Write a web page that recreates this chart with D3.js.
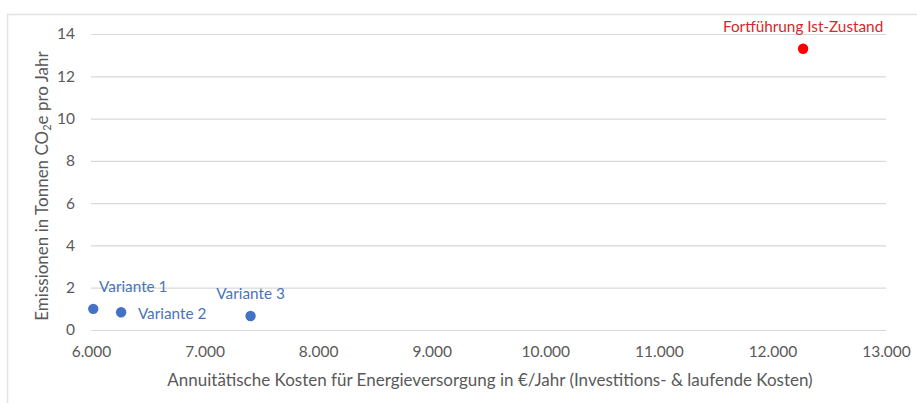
<!DOCTYPE html>
<html>
<head>
<meta charset="utf-8">
<script src="https://cdn.jsdelivr.net/npm/d3@7"></script>
<style>
  html, body { margin: 0; padding: 0; background: #fff; }
  svg { display: block; font-family: Lato, "Open Sans", sans-serif; }
</style>
</head>
<body>
<svg id="chart" width="917" height="403"></svg>
<script>
// Scenario names, annual costs (€/year) and emissions (t CO2e/year)
const names = ["Variante 1", "Variante 2", "Variante 3", "Fortführung Ist-Zustand"];
const costs = [6020, 6265, 7405, 12270];
const emissions = [1.0, 0.84, 0.66, 13.3];
const xTicks = [6000, 7000, 8000, 9000, 10000, 11000, 12000, 13000];
const yTicks = [0, 2, 4, 6, 8, 10, 12, 14];

// Label placement and colours per scenario
const labelOffsets = {
  "Variante 1": [40, -22],
  "Variante 2": [51, 1],
  "Variante 3": [0, -22],
  "Fortführung Ist-Zustand": [0, -22]
};
const dotColor = d => d === "Fortführung Ist-Zustand" ? "#FF0000" : "#4472C4";
const labelColor = d => d === "Fortführung Ist-Zustand" ? "#D8262C" : "#4A74B8";

const svg = d3.select("#chart");

// chart frame
svg.append("path")
  .attr("d", "M7.5,403 V14.5 H917")
  .attr("fill", "none")
  .attr("stroke", "#E3E3E3")
  .attr("stroke-width", 1.5);

const x = d3.scaleLinear().domain([6000, 13000]).range([91, 886]);
const y = d3.scaleLinear().domain([0, 14]).range([330, 34]);

const fmt = d3.formatLocale({ decimal: ",", thousands: ".", grouping: [3], currency: ["", "€"] }).format(",.0f");

// horizontal gridlines with value labels
const yAxis = d3.axisLeft(y).tickValues(yTicks).tickSize(-(x.range()[1] - x.range()[0])).tickPadding(16);
const gy = svg.append("g").attr("transform", `translate(${x.range()[0]},0)`).call(yAxis);
gy.select(".domain").remove();
gy.selectAll(".tick line").attr("stroke", "#D9D9D9").attr("stroke-width", 1.2);
gy.selectAll(".tick text").attr("fill", "#595959").attr("font-size", 15.5).attr("font-family", "Lato");

// x axis labels only
const xAxis = d3.axisBottom(x).tickValues(xTicks).tickFormat(fmt).tickSize(0).tickPadding(16);
const gx = svg.append("g").attr("transform", `translate(0,${y(0)})`).call(xAxis);
gx.select(".domain").remove();
gx.selectAll(".tick text").attr("fill", "#595959").attr("font-size", 15.5).attr("font-family", "Lato");

// axis titles
svg.append("text")
  .attr("x", 490).attr("y", 386)
  .attr("text-anchor", "middle")
  .attr("fill", "#595959")
  .attr("font-size", 17)
  .text("Annuitätische Kosten für Energieversorgung in €/Jahr (Investitions- & laufende Kosten)");

const yt = svg.append("text")
  .attr("transform", "translate(48,186) rotate(-90)")
  .attr("text-anchor", "middle")
  .attr("fill", "#595959")
  .attr("font-size", 17);
yt.append("tspan").text("Emissionen in Tonnen CO");
yt.append("tspan").attr("font-size", 11).attr("dy", 3).text("2");
yt.append("tspan").attr("dy", -3).text("e pro Jahr");

// points
const data = names.map((n, i) => ({ name: n, cost: costs[i], em: emissions[i] }));
svg.append("g").selectAll("circle").data(data).join("circle")
  .attr("cx", d => x(d.cost))
  .attr("cy", d => y(d.em))
  .attr("r", 5.2)
  .attr("fill", d => dotColor(d.name));

// data labels
svg.append("g").selectAll("text").data(data).join("text")
  .attr("x", d => x(d.cost) + labelOffsets[d.name][0])
  .attr("y", d => y(d.em) + labelOffsets[d.name][1])
  .attr("dy", "0.35em")
  .attr("text-anchor", "middle")
  .attr("fill", d => labelColor(d.name))
  .attr("font-size", 15.3)
  .text(d => d.name);
</script>
</body>
</html>
